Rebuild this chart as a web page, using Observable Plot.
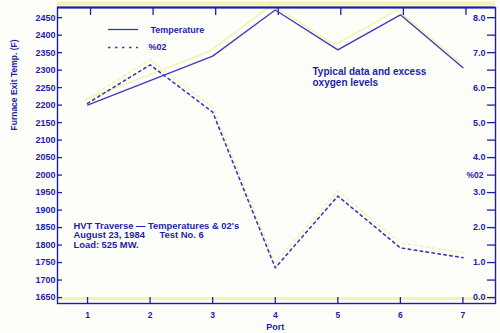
<!DOCTYPE html>
<html>
<head>
<meta charset="utf-8">
<script src="https://cdn.jsdelivr.net/npm/d3@7"></script>
<script src="https://cdn.jsdelivr.net/npm/@observablehq/plot@0.6"></script>
<style>
  html, body { margin: 0; padding: 0; background: #fdfdf9; }
  svg { font-family: "Liberation Sans", Arial, sans-serif; font-weight: bold; }
</style>
</head>
<body>
<div id="chart"></div>
<script>
// ---- data ----
const ports = [1, 2, 3, 4, 5, 6, 7];
const temperature = [2200, 2270, 2340, 2472, 2358, 2458, 2307];
const o2 = [5.55, 6.65, 5.3, 0.85, 2.9, 1.42, 1.14];
const tempTicks = [1650, 1700, 1750, 1800, 1850, 1900, 1950, 2000, 2050, 2100, 2150, 2200, 2250, 2300, 2350, 2400, 2450];
const o2Ticks = [0, 0.5, 1, 1.5, 2, 2.5, 3, 3.5, 4, 4.5, 5, 5.5, 6, 6.5, 7, 7.5, 8];
const o2Labels = [0, 1, 2, 3, 4, 5, 6, 7, 8];
const xDomain = [0.52, 7.52];
const yDomain = [1633, 2479];
// O2 on the right axis shares the frame: 0 % -> 1650 F, 8 % -> 2450 F
const o2ToTemp = v => 1650 + v * 100;

const tempData = ports.map((p, i) => ({port: p, value: temperature[i]}));
const o2Data = ports.map((p, i) => ({port: p, value: o2ToTemp(o2[i])}));

const blue = "#1e1eaa";
const lineBlue = "#3a3abc";
const ghost = "#f5f2b0";

const label = (txt, dx, dy, size, fill = blue) =>
  Plot.text([txt], {frameAnchor: "top-left", dx, dy, textAnchor: "start", lineAnchor: "middle", fill, fontSize: size});

const plot = Plot.plot({
  width: 500,
  height: 333,
  marginLeft: 57,
  marginRight: 5,
  marginTop: 7,
  marginBottom: 30,
  style: {background: "transparent", fontFamily: "Liberation Sans, Arial, sans-serif", fontWeight: "bold"},
  x: {domain: xDomain, axis: null},
  y: {domain: yDomain, axis: null},
  marks: [
    // yellow misregistration ghosts (lines and frame only)
    Plot.line(tempData, {x: "port", y: "value", stroke: ghost, strokeWidth: 1.6, dy: -5, dx: -3}),
    Plot.line(o2Data, {x: "port", y: "value", stroke: ghost, strokeWidth: 1.6, strokeDasharray: "2.5,3.5", dy: -5}),
    Plot.ruleY([yDomain[1]], {stroke: ghost, strokeWidth: 4, dy: -4}),
    Plot.ruleY([yDomain[0]], {stroke: ghost, strokeWidth: 3, dy: -5}),

    // frame
    Plot.frame({stroke: blue, strokeWidth: 1.4}),
    Plot.ruleY([yDomain[1]], {stroke: blue, strokeWidth: 2.2}),

    // ticks (inward)
    Plot.tickY(tempTicks, {y: d => d, insetRight: 433, stroke: blue, strokeWidth: 1.3}),
    Plot.tickY(o2Ticks, {y: d => o2ToTemp(d), insetLeft: 430, stroke: blue, strokeWidth: 1.3}),
    Plot.tickX(ports, {x: d => d, insetTop: 290, stroke: blue, strokeWidth: 1.3}),
    Plot.tickX(ports, {x: d => d, insetBottom: 288, dx: 3, stroke: blue, strokeWidth: 1.3}),

    // tick labels
    Plot.text(tempTicks, {y: d => d, text: d => String(d), frameAnchor: "left", textAnchor: "end", lineAnchor: "middle", dx: -2, fill: blue, fontSize: 9}),
    Plot.text(o2Labels, {y: d => o2ToTemp(d), text: d => d.toFixed(1), frameAnchor: "right", textAnchor: "end", lineAnchor: "middle", dx: -10, fill: blue, fontSize: 9}),
    Plot.text(ports, {x: d => d, text: d => String(d), frameAnchor: "bottom", lineAnchor: "middle", dy: 12, fill: blue, fontSize: 8.5}),

    // axis titles
    Plot.text(["Furnace Exit Temp. (F)"], {frameAnchor: "left", dx: -43, dy: -25, rotate: -90, lineAnchor: "middle", fill: blue, fontSize: 8.5}),
    Plot.text(["%02"], {y: [o2ToTemp(3.5)], text: d => d, frameAnchor: "right", textAnchor: "end", lineAnchor: "middle", dx: -12, fill: blue, fontSize: 8.5}),
    Plot.text(["Port"], {x: [4], text: d => d, frameAnchor: "bottom", lineAnchor: "middle", dy: 24, fill: blue, fontSize: 9}),

    // data lines
    Plot.line(tempData, {x: "port", y: "value", stroke: lineBlue, strokeWidth: 1.3}),
    Plot.line(o2Data, {x: "port", y: "value", stroke: lineBlue, strokeWidth: 1.6, strokeDasharray: "2.5,3.5"}),

    // legend
    Plot.ruleY([yDomain[1]], {dy: 22, insetLeft: 51, insetRight: 357, stroke: lineBlue, strokeWidth: 1.3}),
    Plot.ruleY([yDomain[1]], {dy: 40, insetLeft: 51, insetRight: 357, stroke: lineBlue, strokeWidth: 1.6, strokeDasharray: "2.5,4.5"}),
    label("Temperature", 93, 22.5, 9),
    label("%02", 91, 40, 9),

    // annotations
    label("Typical data and excess", 255, 64, 10),
    label("oxygen levels", 255, 75, 10),
    label("HVT Traverse \u2014 Temperatures & 02's", 16, 218, 9.4),
    label("August 23, 1984", 16, 227.5, 9.4),
    label("Test No. 6", 102, 227.5, 9.4),
    label("Load: 525 MW.", 16, 237, 9.4)
  ]
});
document.getElementById("chart").appendChild(plot);
</script>
</body>
</html>
